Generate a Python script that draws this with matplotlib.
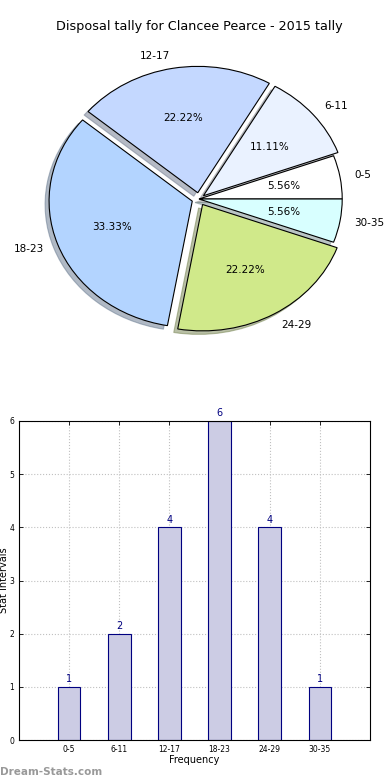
import matplotlib
matplotlib.use("Agg")
import matplotlib.pyplot as plt

# data
categories = ["0-5", "6-11", "12-17", "18-23", "24-29", "30-35"]
counts = [1, 2, 4, 6, 4, 1]
explode = [0, 0.04, 0.05, 0.05, 0.05, 0]
pie_colors = ["#ffffff", "#eaf2ff", "#c4d8ff", "#b3d4ff", "#d0e98a", "#d8ffff"]
title = "Disposal tally for Clancee Pearce - 2015 tally"

fig = plt.figure(figsize=(3.9, 7.8), dpi=100, facecolor="white")

# pie chart (stretched like the old non-equal-aspect pies)
ax1 = fig.add_axes([20 / 390, 1 - 357 / 780, 358 / 390, 316 / 780])
wedges, texts, autotexts = ax1.pie(
    counts, labels=categories, explode=explode, colors=pie_colors,
    autopct="%1.2f%%", shadow=dict(shade=0.45), startangle=0,
    wedgeprops=dict(edgecolor="black", linewidth=0.8),
    textprops=dict(fontsize=7.5),
)
ax1.set_aspect("auto")
ax1.set_xlim(-1.25, 1.25)
ax1.set_ylim(-1.25, 1.25)
ax1.set_title(title, fontsize=9.2, pad=8)

# bar chart
ax2 = fig.add_axes([19 / 390, 40 / 780, 351 / 390, 319 / 780])
x = range(len(categories))
bars = ax2.bar(x, counts, width=0.45, color="#ccccE4", edgecolor="#000080",
               linewidth=0.8, zorder=2)
for xi, c in zip(x, counts):
    ax2.text(xi, c + 0.05, str(c), ha="center", va="bottom",
             color="#000080", fontsize=7)
ax2.set_xlim(-1, 6)
ax2.set_ylim(0, 6)
ax2.set_xticks(list(x))
ax2.set_xticklabels(categories, fontsize=5.5)
ax2.set_yticks(range(0, 7))
ax2.tick_params(axis="y", labelsize=5.5)
ax2.tick_params(direction="in", top=True, right=True, length=3, width=0.6)
ax2.grid(True, linestyle=":", color="#c0c0c0", linewidth=0.8, zorder=0)
ax2.set_axisbelow(True)
ax2.set_xlabel("Frequency", fontsize=7, labelpad=1)
ax2.set_ylabel("Stat Intervals", fontsize=7, labelpad=0)
for s in ax2.spines.values():
    s.set_linewidth(0.8)

fig.text(0.0, 3 / 780, "Dream-Stats.com", color="#999999", fontsize=7.5,
         fontweight="bold", ha="left", va="bottom")

fig.savefig("out.png", dpi=100, facecolor="white")
